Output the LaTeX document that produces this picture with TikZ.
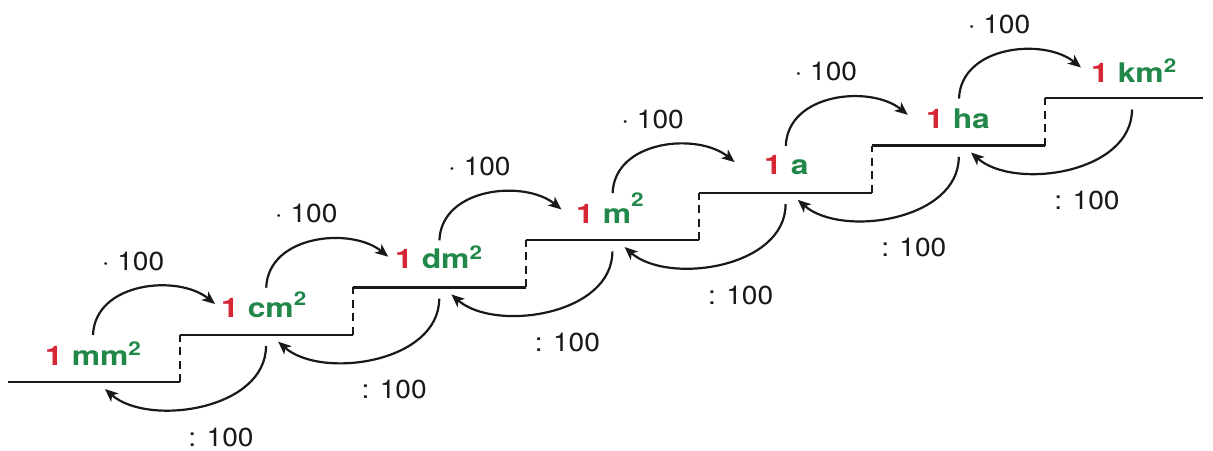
\documentclass[tikz,border=0pt]{standalone}
\usepackage{fontspec}
\setmainfont{TeX Gyre Heros}
\newfontfamily\labfont{TeX Gyre Heros}[FakeStretch=1.18]
\newfontfamily\numfont{TeX Gyre Heros}[FakeStretch=1.08]
\usetikzlibrary{arrows.meta}
\definecolor{unitred}{RGB}{214,40,52}
\definecolor{unitgreen}{RGB}{34,136,74}
\definecolor{ink}{RGB}{25,25,25}
\newcommand{\sqr}[1]{\raisebox{#1pt}{\fontsize{19}{19}\selectfont 2}}
\newcommand{\unitlab}[1]{\textcolor{unitred}{1} \textcolor{unitgreen}{#1}}
\tikzset{
  stepline/.style={line width=2.3pt, draw=ink},
  riser/.style={line width=2.3pt, draw=ink, dash pattern=on 8pt off 5.5pt},
  convarc/.style={line width=2.2pt, draw=ink, -{Stealth[length=13pt,width=11pt,inset=3.5pt]}},
  unitnode/.style={anchor=base west, inner sep=0pt, font=\labfont\fontsize{27}{27}\selectfont\bfseries},
  factor/.style={inner sep=0pt, text=ink, font=\numfont\fontsize{26}{26}\selectfont},
}
\begin{document}
\begin{tikzpicture}[x=1pt,y=-1pt]
\useasboundingbox (0,0) rectangle (1213,450);
% stairs
\coordinate (s0l) at (8,382);
\coordinate (s0r) at (180,382);
\draw[stepline] (s0l) -- (s0r);
\foreach \i in {1,...,6} {
  \pgfmathsetmacro{\yy}{382-47.3*\i}
  \pgfmathsetmacro{\xl}{180+173*(\i-1)}
  \pgfmathsetmacro{\xr}{\i==6 ? 1203 : 180+173*\i}
  \coordinate (s\i l) at (\xl,\yy);
  \coordinate (s\i r) at (\xr,\yy);
}
\foreach \i [count=\j from 1] in {0,...,5} {
  \draw[riser] (s\i r) -- (s\j l);
  \draw[stepline] (s\j l) -- (s\j r);
}
% unit labels
\node[unitnode] (L0) at (45,365) {\unitlab{mm\sqr{10}}};
\node[unitnode] (L1) at (221,317) {\unitlab{cm\sqr{12}}};
\node[unitnode] (L2) at (395,268) {\unitlab{dm\sqr{9}}};
\node[unitnode] (L3) at (576,223) {\unitlab{m\sqr{17}}};
\node[unitnode] (L4) at (764,174) {\unitlab{a}};
\node[unitnode] (L5) at (926,128) {\unitlab{ha}};
\node[unitnode] (L6) at (1091,82) {\unitlab{km\sqr{10}}};
% conversion arcs and factors
\foreach \i in {0,...,5} {
  \pgfmathsetmacro{\a}{93+173.2*\i}
  \pgfmathsetmacro{\y}{382-47.3*\i}
  \coordinate (up\i s) at (\a,\y-47);
  \coordinate (up\i e) at (\a+122,\y-78);
  \coordinate (dn\i s) at (\a+173,\y-36);
  \coordinate (dn\i e) at (\a+12,\y+7);
  \draw[convarc] (up\i s) .. controls (\a+2,\y-100) and (\a+85,\y-108) .. (up\i e);
  \draw[convarc] (dn\i s) .. controls (\a+173,\y+28) and (\a+55,\y+45) .. (dn\i e);
  \node[factor] (mul\i) at (\a+40,\y-121) {· 100};
  \node[factor] (div\i) at (\a+128,\y+55) {: 100};
}
\end{tikzpicture}
\end{document}
